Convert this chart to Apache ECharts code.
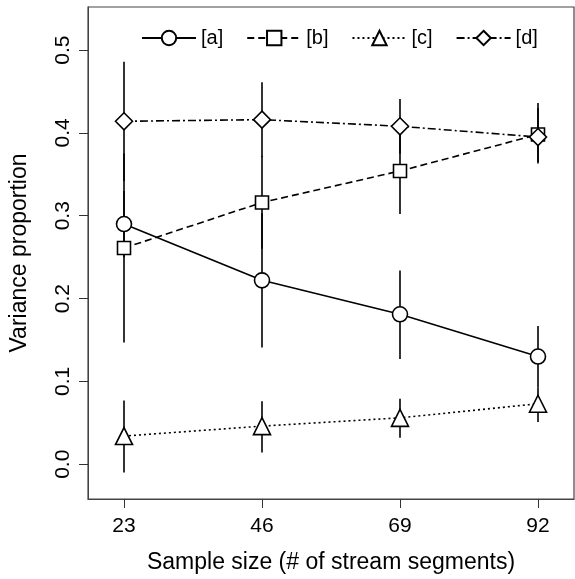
<!DOCTYPE html>
<html>
<head>
<meta charset="utf-8">
<script src="https://cdn.jsdelivr.net/npm/echarts@6/dist/echarts.min.js"></script>
<style>
  html, body { margin: 0; padding: 0; background: #fff; }
  #chart { width: 575px; height: 579px; }
</style>
</head>
<body>
<div id="chart"></div>
<script>
// sample sizes on the x axis
var sampleSizes = [23, 46, 69, 92];
var yTicks = [0, 0.1, 0.2, 0.3, 0.4, 0.5];

// mean variance proportion per component, with interval ends
var aMean = [0.290, 0.222, 0.181, 0.130];
var aLow  = [0.250, 0.141, 0.127, 0.093];
var aHigh = [0.330, 0.303, 0.234, 0.167];

var bMean = [0.261, 0.316, 0.354, 0.398];
var bLow  = [0.147, 0.260, 0.302, 0.365];
var bHigh = [0.375, 0.372, 0.406, 0.430];

var cMean = [0.034, 0.046, 0.056, 0.073];
var cLow  = [-0.010, 0.014, 0.032, 0.051];
var cHigh = [0.077, 0.076, 0.079, 0.093];

var dMean = [0.414, 0.416, 0.408, 0.395];
var dLow  = [0.342, 0.371, 0.375, 0.363];
var dHigh = [0.486, 0.461, 0.441, 0.436];

var FONT = "Liberation Sans, Arial, sans-serif";

function pairs(xs, ys) {
  var out = [];
  for (var i = 0; i < xs.length; i++) out.push([xs[i], ys[i]]);
  return out;
}
function bars(xs, lo, hi) {
  var out = [];
  for (var i = 0; i < xs.length; i++) out.push([xs[i], lo[i], hi[i]]);
  return out;
}

// vertical interval line, no caps
function errSeries(name, data) {
  return {
    name: name,
    type: "custom",
    z: 1,
    silent: true,
    renderItem: function(params, api) {
      var p1 = api.coord([api.value(0), api.value(1)]);
      var p2 = api.coord([api.value(0), api.value(2)]);
      return {
        type: "line",
        shape: { x1: p1[0], y1: p1[1], x2: p2[0], y2: p2[1] },
        style: { stroke: "#000", lineWidth: 1.6 }
      };
    },
    encode: { x: 0, y: [1, 2] },
    data: data
  };
}

function lineSeries(name, data, symbol, size, dash) {
  return {
    name: name,
    type: "line",
    z: 3,
    data: data,
    symbol: symbol,
    symbolSize: size,
    showAllSymbol: true,
    itemStyle: { color: "#fff", borderColor: "#000", borderWidth: 1.6 },
    lineStyle: { color: "#000", width: 1.6, type: dash }
  };
}

var chart = echarts.init(document.getElementById("chart"));

var option = {
  animation: false,
  backgroundColor: "#fff",
  grid: {
    left: 87, right: 1, top: 7, bottom: 79,
    show: true, borderColor: "#444", borderWidth: 1.2
  },
  legend: {
    data: ["[a]", "[b]", "[c]", "[d]"],
    top: 23,
    left: 136,
    itemWidth: 54,
    itemHeight: 18,
    itemGap: 23,
    textStyle: { fontFamily: FONT, fontSize: 20, color: "#000" }
  },
  xAxis: {
    type: "value",
    min: 17,
    max: 98,
    splitLine: { show: false },
    axisLine: { show: true, onZero: false, lineStyle: { color: "#444" } },
    axisTick: { show: true, customValues: sampleSizes, length: 9, lineStyle: { color: "#333" } },
    axisLabel: {
      customValues: sampleSizes,
      margin: 17,
      fontFamily: FONT, fontSize: 21, color: "#000"
    },
    name: "Sample size (# of stream segments)",
    nameLocation: "middle",
    nameGap: 52,
    nameTextStyle: { fontFamily: FONT, fontSize: 23, color: "#000" }
  },
  yAxis: {
    type: "value",
    min: -0.042,
    max: 0.552,
    splitLine: { show: false },
    axisLine: { show: true, onZero: false, lineStyle: { color: "#444" } },
    axisTick: { show: true, customValues: yTicks, length: 9, lineStyle: { color: "#333" } },
    axisLabel: {
      customValues: yTicks,
      rotate: 90,
      margin: 14,
      fontFamily: FONT, fontSize: 21, color: "#000",
      formatter: function(v) { return v.toFixed(1); }
    },
    name: "Variance proportion",
    nameLocation: "middle",
    nameRotate: 90,
    nameGap: 57,
    nameTextStyle: { fontFamily: FONT, fontSize: 23, color: "#000" }
  },
  series: [
    errSeries("err-a", bars(sampleSizes, aLow, aHigh)),
    errSeries("err-b", bars(sampleSizes, bLow, bHigh)),
    errSeries("err-c", bars(sampleSizes, cLow, cHigh)),
    errSeries("err-d", bars(sampleSizes, dLow, dHigh)),
    lineSeries("[a]", pairs(sampleSizes, aMean), "circle", 15, "solid"),
    lineSeries("[b]", pairs(sampleSizes, bMean), "rect", 13, [7, 4]),
    lineSeries("[c]", pairs(sampleSizes, cMean), "triangle", 17, [2, 3]),
    lineSeries("[d]", pairs(sampleSizes, dMean), "diamond", 17, [8, 3, 2, 3])
  ]
};

chart.setOption(option);
</script>
</body>
</html>
